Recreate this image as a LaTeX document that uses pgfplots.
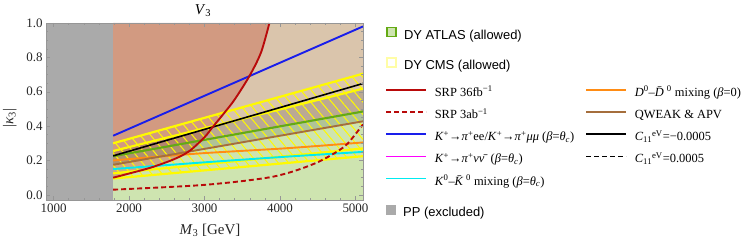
\documentclass[border=0pt]{standalone}
\usepackage{fontspec}
\setmainfont{Liberation Serif}
\newfontfamily\arialf{Liberation Sans}
\usepackage{pgfplots}
\pgfplotsset{compat=1.18}
\usetikzlibrary{patterns.meta}
\definecolor{pgray}{RGB}{170,170,170}
\definecolor{tanbg}{RGB}{218,197,172}
\definecolor{greenbg}{RGB}{206,228,176}
\definecolor{redfill}{RGB}{204,112,88}
\definecolor{srpred}{RGB}{185,10,10}
\definecolor{kblue}{RGB}{25,30,235}
\definecolor{kmag}{RGB}{255,0,255}
\definecolor{kcyan}{RGB}{0,235,240}
\definecolor{dorange}{RGB}{255,140,20}
\definecolor{qbrown}{RGB}{165,110,60}
\definecolor{atlasgreen}{RGB}{100,170,20}
\definecolor{cmsyellow}{RGB}{255,250,0}
\definecolor{framegray}{RGB}{150,150,150}
\newcommand{\Celeven}{\textit{C}\textsubscript{11}\textsuperscript{eV}}
\begin{document}
\begin{tikzpicture}
\path[use as bounding box] (0,0) rectangle (747bp,242bp);
\begin{axis}[
  at={(46bp,42bp)}, anchor=south west,
  width=317bp, height=177bp, scale only axis,
  xmin=900, xmax=5100, ymin=-0.03, ymax=1.0,
  xtick={1000,2000,3000,4000,5000},
  ytick={0,0.2,0.4,0.6,0.8,1.0},
  minor x tick num=4, minor y tick num=3,
  tick align=inside, tick pos=both,
  major tick length=4bp, minor tick length=2bp,
  every tick/.style={framegray},
  axis line style={framegray, line width=0.6bp},
  scaled x ticks=false, scaled y ticks=false,
  /pgf/number format/assume math mode=true,
  xticklabel style={/pgf/number format/set thousands separator={}},
  yticklabel style={/pgf/number format/.cd, fixed, fixed zerofill, precision=1},
  tick label style={font=\fontsize{13}{13}\selectfont, text=black!85},
  title={\textit{V}\textsubscript{3}},
  title style={at={(axis description cs:0.495,1.035)}, anchor=center, font=\fontsize{15}{15}\selectfont},
  xlabel={\textit{M}\textsubscript{3} [GeV]},
  xlabel style={at={(axis description cs:0.517,-0.173)}, anchor=center, font=\fontsize{15}{15}\selectfont, text=black!85},
  ylabel={|\textit{κ}\textsubscript{3}|},
  ylabel style={at={(axis description cs:-0.114,0.463)}, anchor=center, rotate=0, font=\fontsize{15}{15}\selectfont, text=black!85},
  axis on top,
  clip=true,
]
% PP excluded
\addplot[fill=pgray, draw=none] coordinates {(900,-0.03) (1790,-0.03) (1790,1.0) (900,1.0)} -- cycle;
% allowed region base
\addplot[fill=tanbg, draw=none] coordinates {(1790,-0.03) (5100,-0.03) (5100,1.0) (1790,1.0)} -- cycle;
% DY ATLAS allowed
\addplot[fill=greenbg, draw=none] coordinates {(1790,-0.03) (5100,-0.03) (5100,0.485) (1790,0.225)} -- cycle;
% SRP 36fb excluded
\addplot[fill=redfill, fill opacity=0.5, draw=none] coordinates {
 (1790,0.100) (2000,0.124) (2300,0.160) (2600,0.208) (2800,0.255) (3000,0.335)
 (3100,0.390) (3250,0.470) (3400,0.555) (3600,0.695) (3750,0.830) (3860,1.0) (1790,1.0)} -- cycle;
% darker band
\addplot[fill=black, fill opacity=0.14, draw=none] coordinates {(1790,0.255) (5100,0.618) (5100,0.428) (1790,0.175)} -- cycle;
% CMS hatch
\addplot[pattern={Lines[angle=-50,distance=8bp,line width=1bp]}, pattern color=cmsyellow, draw=none]
  coordinates {(1790,0.300) (5100,0.705) (5100,0.225) (1790,0.095)} -- cycle;
% CMS boundaries
\addplot[cmsyellow, line width=2.2bp] coordinates {(1790,0.300) (5100,0.705)};
\addplot[cmsyellow, line width=2.2bp] coordinates {(1790,0.255) (5100,0.618)};
\addplot[cmsyellow, line width=2.2bp] coordinates {(1790,0.125) (5100,0.270)};
\addplot[cmsyellow, line width=2.2bp] coordinates {(1790,0.095) (5100,0.225)};
% constraints
\addplot[kcyan, line width=1.9bp, smooth] coordinates {(1790,0.150) (2900,0.186) (4080,0.222) (5100,0.250)};
\addplot[dorange, line width=1.9bp, smooth] coordinates {(1790,0.200) (2900,0.240) (4080,0.271) (5100,0.305)};
\addplot[qbrown, line width=1.9bp] coordinates {(1790,0.175) (5100,0.428)};
\addplot[atlasgreen, line width=2.1bp] coordinates {(1790,0.225) (5100,0.485)};
\addplot[black, line width=1.6bp] coordinates {(1790,0.227) (5100,0.648)};
\addplot[kblue, line width=1.9bp] coordinates {(1790,0.344) (5100,0.980)};
\addplot[srpred, line width=1.9bp, dash pattern=on 5bp off 3bp, smooth] coordinates {
 (1790,0.030) (2500,0.045) (3000,0.058) (3500,0.080) (3900,0.105) (4200,0.140)
 (4500,0.190) (4750,0.250) (4900,0.300) (5100,0.410)};
\addplot[srpred, line width=1.9bp, smooth] coordinates {
 (1790,0.100) (2000,0.124) (2300,0.160) (2600,0.208) (2800,0.255) (3000,0.335)
 (3100,0.390) (3250,0.470) (3400,0.555) (3600,0.695) (3750,0.830) (3860,1.0)};
\end{axis}
% legend: DY
\begin{axis}[at={(46bp,42bp)}, anchor=south west, width=317bp, height=177bp, scale only axis,
  hide axis, xmin=0, xmax=1, ymin=0, ymax=1,
  legend image code/.code={\draw[#1] (0bp,-0.5bp) rectangle (9bp,8.5bp);},
  legend style={at={(axis description cs:1.0726,0.9774)}, anchor=north west, draw=none, fill=none,
    inner sep=0pt, row sep=15bp, column sep=7.5bp,
    nodes={inner sep=0pt, text height=9bp, text depth=3bp}, font=\arialf\fontsize{13}{13}\selectfont},
  legend cell align=left]
\addlegendimage{fill=greenbg, draw=atlasgreen, line width=1.3bp}
\addlegendentry{DY ATLAS (allowed)}
\addlegendimage{fill=white, draw=cmsyellow!35, line width=1.3bp}
\addlegendentry{DY CMS (allowed)}
\end{axis}
% legend: lines col 1
\begin{axis}[at={(46bp,42bp)}, anchor=south west, width=317bp, height=177bp, scale only axis,
  hide axis, xmin=0, xmax=1, ymin=0, ymax=1,
  legend image code/.code={\draw[#1] (0bp,3.5bp) -- (40bp,3.5bp);},
  legend style={at={(axis description cs:1.0694,0.638)}, anchor=north west, draw=none, fill=none,
    inner sep=0pt, row sep=10.2bp, column sep=8bp,
    nodes={inner sep=0pt, text height=9bp, text depth=3bp}, font=\fontsize{12.5}{12.5}\selectfont},
  legend cell align=left]
\addlegendimage{srpred, line width=1.6bp}
\addlegendentry{SRP 36fb\textsuperscript{−1}}
\addlegendimage{srpred, line width=1.6bp, dash pattern=on 5bp off 3bp}
\addlegendentry{SRP 3ab\textsuperscript{−1}}
\addlegendimage{kblue, line width=1.6bp}
\addlegendentry{\textit{K}\textsuperscript{+}→\textit{π}\textsuperscript{+}ee/\textit{K}\textsuperscript{+}→\textit{π}\textsuperscript{+}\textit{μμ} (\textit{β}=\textit{θ}\textsubscript{\textit{c}})}
\addlegendimage{kmag, line width=1.6bp}
\addlegendentry{\textit{K}\textsuperscript{+}→\textit{π}\textsuperscript{+}\textit{νν̄} (\textit{β}=\textit{θ}\textsubscript{\textit{c}})}
\addlegendimage{kcyan, line width=1.6bp}
\addlegendentry{\textit{K}\textsuperscript{0}–\textit{K̄}\textsuperscript{0} mixing (\textit{β}=\textit{θ}\textsubscript{\textit{c}})}
\end{axis}
% legend: lines col 2
\begin{axis}[at={(46bp,42bp)}, anchor=south west, width=317bp, height=177bp, scale only axis,
  hide axis, xmin=0, xmax=1, ymin=0, ymax=1,
  legend image code/.code={\draw[#1] (0bp,3.5bp) -- (40bp,3.5bp);},
  legend style={at={(axis description cs:1.7003,0.638)}, anchor=north west, draw=none, fill=none,
    inner sep=0pt, row sep=10.2bp, column sep=8bp,
    nodes={inner sep=0pt, text height=9bp, text depth=3bp}, font=\fontsize{12.5}{12.5}\selectfont},
  legend cell align=left]
\addlegendimage{dorange, line width=1.6bp}
\addlegendentry{\textit{D}\textsuperscript{0}–\textit{D̄}\textsuperscript{0} mixing (\textit{β}=0)}
\addlegendimage{qbrown, line width=1.6bp}
\addlegendentry{QWEAK \& APV}
\addlegendimage{black, line width=1.6bp}
\addlegendentry{\Celeven=−0.0005}
\addlegendimage{black, line width=1.6bp, dash pattern=on 5bp off 3bp}
\addlegendentry{\Celeven=0.0005}
\end{axis}
% legend: PP
\begin{axis}[at={(46bp,42bp)}, anchor=south west, width=317bp, height=177bp, scale only axis,
  hide axis, xmin=0, xmax=1, ymin=0, ymax=1,
  legend image code/.code={\draw[#1] (0bp,-0.5bp) rectangle (9bp,8.5bp);},
  legend style={at={(axis description cs:1.0726,-0.0282)}, anchor=north west, draw=none, fill=none,
    inner sep=0pt, column sep=7.5bp,
    nodes={inner sep=0pt, text height=9bp, text depth=3bp}, font=\arialf\fontsize{13}{13}\selectfont},
  legend cell align=left]
\addlegendimage{fill=pgray, draw=pgray, line width=0.5bp}
\addlegendentry{PP (excluded)}
\end{axis}
\end{tikzpicture}
\end{document}
